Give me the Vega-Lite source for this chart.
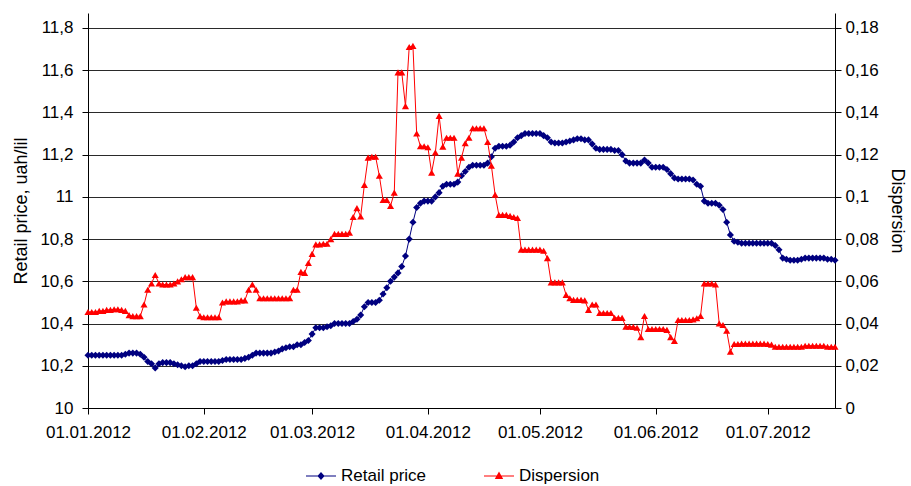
{
"$schema": "https://vega.github.io/schema/vega-lite/v6.json",
"width": 747, "height": 395,
"autosize": {"type": "none"},
"padding": {"left": 88, "top": 13, "right": 76, "bottom": 78},
"background": "white",
"config": {"view": {"stroke": null}, "font": "Liberation Sans"},
"datasets": {"main": [
{"d":"2012-01-01","p":10.25,"s":0.0455},{"d":"2012-01-02","p":10.25,"s":0.0455},{"d":"2012-01-03","p":10.25,"s":0.0455},{"d":"2012-01-04","p":10.25,"s":0.046},{"d":"2012-01-05","p":10.25,"s":0.046},{"d":"2012-01-06","p":10.25,"s":0.0465},{"d":"2012-01-07","p":10.25,"s":0.0465},{"d":"2012-01-08","p":10.25,"s":0.0468},{"d":"2012-01-09","p":10.25,"s":0.0468},{"d":"2012-01-10","p":10.25,"s":0.0465},
{"d":"2012-01-11","p":10.255,"s":0.046},{"d":"2012-01-12","p":10.26,"s":0.044},{"d":"2012-01-13","p":10.26,"s":0.0435},{"d":"2012-01-14","p":10.26,"s":0.0435},{"d":"2012-01-15","p":10.255,"s":0.0435},{"d":"2012-01-16","p":10.24,"s":0.049},{"d":"2012-01-17","p":10.22,"s":0.056},{"d":"2012-01-18","p":10.21,"s":0.059},{"d":"2012-01-19","p":10.19,"s":0.063},{"d":"2012-01-20","p":10.21,"s":0.059},
{"d":"2012-01-21","p":10.215,"s":0.0585},{"d":"2012-01-22","p":10.215,"s":0.0585},{"d":"2012-01-23","p":10.215,"s":0.0585},{"d":"2012-01-24","p":10.21,"s":0.059},{"d":"2012-01-25","p":10.205,"s":0.06},{"d":"2012-01-26","p":10.2,"s":0.061},{"d":"2012-01-27","p":10.195,"s":0.062},{"d":"2012-01-28","p":10.2,"s":0.062},{"d":"2012-01-29","p":10.2,"s":0.062},{"d":"2012-01-30","p":10.21,"s":0.0475},{"d":"2012-01-31","p":10.22,"s":0.0435},
{"d":"2012-02-01","p":10.22,"s":0.043},{"d":"2012-02-02","p":10.22,"s":0.043},{"d":"2012-02-03","p":10.22,"s":0.043},{"d":"2012-02-04","p":10.22,"s":0.043},{"d":"2012-02-05","p":10.22,"s":0.043},{"d":"2012-02-06","p":10.225,"s":0.05},{"d":"2012-02-07","p":10.23,"s":0.0505},{"d":"2012-02-08","p":10.23,"s":0.0505},{"d":"2012-02-09","p":10.23,"s":0.0505},{"d":"2012-02-10","p":10.23,"s":0.0505},
{"d":"2012-02-11","p":10.23,"s":0.051},{"d":"2012-02-12","p":10.235,"s":0.051},{"d":"2012-02-13","p":10.24,"s":0.056},{"d":"2012-02-14","p":10.25,"s":0.0585},{"d":"2012-02-15","p":10.26,"s":0.056},{"d":"2012-02-16","p":10.26,"s":0.052},{"d":"2012-02-17","p":10.26,"s":0.052},{"d":"2012-02-18","p":10.26,"s":0.052},{"d":"2012-02-19","p":10.26,"s":0.052},{"d":"2012-02-20","p":10.265,"s":0.052},
{"d":"2012-02-21","p":10.27,"s":0.052},{"d":"2012-02-22","p":10.28,"s":0.052},{"d":"2012-02-23","p":10.285,"s":0.052},{"d":"2012-02-24","p":10.29,"s":0.052},{"d":"2012-02-25","p":10.29,"s":0.056},{"d":"2012-02-26","p":10.3,"s":0.056},{"d":"2012-02-27","p":10.3,"s":0.0645},{"d":"2012-02-28","p":10.31,"s":0.064},{"d":"2012-02-29","p":10.32,"s":0.0687},
{"d":"2012-03-01","p":10.35,"s":0.073},{"d":"2012-03-02","p":10.38,"s":0.0775},{"d":"2012-03-03","p":10.38,"s":0.0775},{"d":"2012-03-04","p":10.38,"s":0.0778},{"d":"2012-03-05","p":10.385,"s":0.0778},{"d":"2012-03-06","p":10.39,"s":0.08},{"d":"2012-03-07","p":10.4,"s":0.0825},{"d":"2012-03-08","p":10.4,"s":0.0825},{"d":"2012-03-09","p":10.4,"s":0.0825},{"d":"2012-03-10","p":10.4,"s":0.0825},
{"d":"2012-03-11","p":10.4,"s":0.083},{"d":"2012-03-12","p":10.41,"s":0.0905},{"d":"2012-03-13","p":10.42,"s":0.0947},{"d":"2012-03-14","p":10.44,"s":0.0907},{"d":"2012-03-15","p":10.48,"s":0.1057},{"d":"2012-03-16","p":10.5,"s":0.1186},{"d":"2012-03-17","p":10.5,"s":0.119},{"d":"2012-03-18","p":10.5,"s":0.119},{"d":"2012-03-19","p":10.51,"s":0.11},{"d":"2012-03-20","p":10.54,"s":0.0985},
{"d":"2012-03-21","p":10.57,"s":0.0985},{"d":"2012-03-22","p":10.6,"s":0.0957},{"d":"2012-03-23","p":10.62,"s":0.102},{"d":"2012-03-24","p":10.64,"s":0.159},{"d":"2012-03-25","p":10.67,"s":0.159},{"d":"2012-03-26","p":10.72,"s":0.143},{"d":"2012-03-27","p":10.8,"s":0.171},{"d":"2012-03-28","p":10.88,"s":0.1715},{"d":"2012-03-29","p":10.95,"s":0.13},{"d":"2012-03-30","p":10.97,"s":0.124},{"d":"2012-03-31","p":10.98,"s":0.124},
{"d":"2012-04-01","p":10.98,"s":0.1235},{"d":"2012-04-02","p":10.98,"s":0.1115},{"d":"2012-04-03","p":11.0,"s":0.121},{"d":"2012-04-04","p":11.02,"s":0.1384},{"d":"2012-04-05","p":11.05,"s":0.1238},{"d":"2012-04-06","p":11.06,"s":0.128},{"d":"2012-04-07","p":11.06,"s":0.128},{"d":"2012-04-08","p":11.06,"s":0.128},{"d":"2012-04-09","p":11.07,"s":0.111},{"d":"2012-04-10","p":11.1,"s":0.1186},
{"d":"2012-04-11","p":11.12,"s":0.1254},{"d":"2012-04-12","p":11.14,"s":0.128},{"d":"2012-04-13","p":11.15,"s":0.1325},{"d":"2012-04-14","p":11.15,"s":0.1325},{"d":"2012-04-15","p":11.15,"s":0.1325},{"d":"2012-04-16","p":11.15,"s":0.1325},{"d":"2012-04-17","p":11.16,"s":0.126},{"d":"2012-04-18","p":11.19,"s":0.1148},{"d":"2012-04-19","p":11.23,"s":0.101},{"d":"2012-04-20","p":11.24,"s":0.0915},
{"d":"2012-04-21","p":11.24,"s":0.0915},{"d":"2012-04-22","p":11.24,"s":0.0915},{"d":"2012-04-23","p":11.245,"s":0.091},{"d":"2012-04-24","p":11.26,"s":0.0905},{"d":"2012-04-25","p":11.28,"s":0.09},{"d":"2012-04-26","p":11.29,"s":0.075},{"d":"2012-04-27","p":11.3,"s":0.075},{"d":"2012-04-28","p":11.3,"s":0.075},{"d":"2012-04-29","p":11.3,"s":0.075},{"d":"2012-04-30","p":11.3,"s":0.075},
{"d":"2012-05-01","p":11.3,"s":0.075},{"d":"2012-05-02","p":11.29,"s":0.0745},{"d":"2012-05-03","p":11.28,"s":0.071},{"d":"2012-05-04","p":11.26,"s":0.0595},{"d":"2012-05-05","p":11.255,"s":0.0595},{"d":"2012-05-06","p":11.255,"s":0.0595},{"d":"2012-05-07","p":11.255,"s":0.0595},{"d":"2012-05-08","p":11.26,"s":0.0536},{"d":"2012-05-09","p":11.265,"s":0.052},{"d":"2012-05-10","p":11.27,"s":0.0512},
{"d":"2012-05-11","p":11.275,"s":0.0512},{"d":"2012-05-12","p":11.275,"s":0.0512},{"d":"2012-05-13","p":11.27,"s":0.051},{"d":"2012-05-14","p":11.27,"s":0.0465},{"d":"2012-05-15","p":11.25,"s":0.049},{"d":"2012-05-16","p":11.23,"s":0.049},{"d":"2012-05-17","p":11.225,"s":0.045},{"d":"2012-05-18","p":11.225,"s":0.045},{"d":"2012-05-19","p":11.225,"s":0.045},{"d":"2012-05-20","p":11.225,"s":0.045},
{"d":"2012-05-21","p":11.22,"s":0.0427},{"d":"2012-05-22","p":11.22,"s":0.0427},{"d":"2012-05-23","p":11.2,"s":0.0427},{"d":"2012-05-24","p":11.17,"s":0.0385},{"d":"2012-05-25","p":11.16,"s":0.0385},{"d":"2012-05-26","p":11.16,"s":0.0384},{"d":"2012-05-27","p":11.16,"s":0.038},{"d":"2012-05-28","p":11.16,"s":0.0336},{"d":"2012-05-29","p":11.175,"s":0.0436},{"d":"2012-05-30","p":11.16,"s":0.0374},{"d":"2012-05-31","p":11.14,"s":0.0374},
{"d":"2012-06-01","p":11.14,"s":0.0374},{"d":"2012-06-02","p":11.14,"s":0.0374},{"d":"2012-06-03","p":11.14,"s":0.0374},{"d":"2012-06-04","p":11.13,"s":0.037},{"d":"2012-06-05","p":11.11,"s":0.0336},{"d":"2012-06-06","p":11.09,"s":0.0318},{"d":"2012-06-07","p":11.085,"s":0.0417},{"d":"2012-06-08","p":11.085,"s":0.0417},{"d":"2012-06-09","p":11.085,"s":0.0417},{"d":"2012-06-10","p":11.085,"s":0.0417},
{"d":"2012-06-11","p":11.08,"s":0.042},{"d":"2012-06-12","p":11.06,"s":0.0425},{"d":"2012-06-13","p":11.05,"s":0.0436},{"d":"2012-06-14","p":10.98,"s":0.059},{"d":"2012-06-15","p":10.97,"s":0.059},{"d":"2012-06-16","p":10.97,"s":0.059},{"d":"2012-06-17","p":10.97,"s":0.0585},{"d":"2012-06-18","p":10.96,"s":0.04},{"d":"2012-06-19","p":10.94,"s":0.0393},{"d":"2012-06-20","p":10.88,"s":0.0366},
{"d":"2012-06-21","p":10.82,"s":0.0267},{"d":"2012-06-22","p":10.79,"s":0.0303},{"d":"2012-06-23","p":10.785,"s":0.0303},{"d":"2012-06-24","p":10.78,"s":0.0305},{"d":"2012-06-25","p":10.78,"s":0.0305},{"d":"2012-06-26","p":10.78,"s":0.0305},{"d":"2012-06-27","p":10.78,"s":0.0305},{"d":"2012-06-28","p":10.78,"s":0.0305},{"d":"2012-06-29","p":10.78,"s":0.0305},{"d":"2012-06-30","p":10.78,"s":0.0305},
{"d":"2012-07-01","p":10.78,"s":0.0303},{"d":"2012-07-02","p":10.78,"s":0.03},{"d":"2012-07-03","p":10.77,"s":0.029},{"d":"2012-07-04","p":10.75,"s":0.029},{"d":"2012-07-05","p":10.71,"s":0.029},{"d":"2012-07-06","p":10.705,"s":0.029},{"d":"2012-07-07","p":10.7,"s":0.029},{"d":"2012-07-08","p":10.7,"s":0.029},{"d":"2012-07-09","p":10.7,"s":0.029},{"d":"2012-07-10","p":10.705,"s":0.029},
{"d":"2012-07-11","p":10.71,"s":0.0295},{"d":"2012-07-12","p":10.71,"s":0.0295},{"d":"2012-07-13","p":10.71,"s":0.0295},{"d":"2012-07-14","p":10.71,"s":0.0295},{"d":"2012-07-15","p":10.71,"s":0.0295},{"d":"2012-07-16","p":10.71,"s":0.0295},{"d":"2012-07-17","p":10.705,"s":0.029},{"d":"2012-07-18","p":10.705,"s":0.029},{"d":"2012-07-19","p":10.7,"s":0.029}
],
"series": [{"series": "Retail price"}, {"series": "Dispersion"}]},
"layer": [
  {
    "data": {"name": "main"},
    "mark": {"type": "line", "strokeWidth": 1, "color": "#000080", "point": {"filled": true, "size": 50, "shape": "diamond", "color": "#000080"}},
    "encoding": {
      "x": {"field": "d", "type": "temporal",
        "scale": {"type": "utc", "domain": [{"year": 2012, "month": 1, "date": 1, "utc": true}, {"year": 2012, "month": 7, "date": 19, "utc": true}], "nice": false},
        "axis": {"title": null, "grid": false,
          "values": [{"year":2012,"month":1,"date":1,"utc":true},{"year":2012,"month":2,"date":1,"utc":true},{"year":2012,"month":3,"date":1,"utc":true},{"year":2012,"month":4,"date":1,"utc":true},{"year":2012,"month":5,"date":1,"utc":true},{"year":2012,"month":6,"date":1,"utc":true},{"year":2012,"month":7,"date":1,"utc":true}],
          "labelExpr": "utcFormat(datum.value, '%d.%m.%Y')",
          "domainColor": "#000000", "tickColor": "#000000", "tickSize": 6, "labelPadding": 10,
          "labelFontSize": 17, "labelColor": "#000000", "labelFont": "Liberation Sans", "labelFlush": false, "labelOverlap": false}
      },
      "y": {"field": "p", "type": "quantitative",
        "scale": {"domain": [10, 11.871], "nice": false, "zero": false},
        "axis": {"orient": "left", "title": "Retail price, uah/lil", "titleFontSize": 18, "titleFont": "Liberation Sans", "titleFontWeight": "normal", "titleColor": "#000000", "titlePadding": 9,
          "values": [10, 10.2, 10.4, 10.6, 10.8, 11, 11.2, 11.4, 11.6, 11.8],
          "labelExpr": "replace(format(datum.value, '.1~f'), '.', ',')",
          "grid": true, "gridColor": "#2a2a2a", "gridWidth": 1,
          "domainColor": "#000000", "tickColor": "#000000", "tickSize": 6, "labelPadding": 9,
          "labelFontSize": 17, "labelColor": "#000000", "labelFont": "Liberation Sans", "labelFlush": false, "labelOverlap": false}
      }
    }
  },
  {
    "data": {"name": "main"},
    "mark": {"type": "line", "strokeWidth": 1, "color": "#FF0000", "point": {"filled": true, "size": 50, "shape": "triangle-up", "color": "#FF0000"}},
    "encoding": {
      "x": {"field": "d", "type": "temporal"},
      "y": {"field": "s", "type": "quantitative",
        "scale": {"domain": [0, 0.1871], "nice": false, "zero": false},
        "axis": {"orient": "right", "title": "Dispersion", "titleFontSize": 18, "titleFont": "Liberation Sans", "titleFontWeight": "normal", "titleColor": "#000000", "titlePadding": 9,
          "values": [0, 0.02, 0.04, 0.06, 0.08, 0.1, 0.12, 0.14, 0.16, 0.18],
          "labelExpr": "replace(format(datum.value, '.2~f'), '.', ',')",
          "grid": false,
          "domainColor": "#000000", "tickColor": "#000000", "tickSize": 6, "labelPadding": 4,
          "labelFontSize": 17, "labelColor": "#000000", "labelFont": "Liberation Sans", "labelFlush": false, "labelOverlap": false}
      }
    }
  },
  {
    "data": {"name": "series"},
    "transform": [{"filter": "false"}],
    "mark": {"type": "point", "filled": true, "opacity": 1},
    "encoding": {
      "color": {"field": "series", "type": "nominal",
        "scale": {"domain": ["Retail price", "Dispersion"], "range": ["#000080", "#FF0000"]},
        "legend": {"title": null, "orient": "none", "legendX": 218, "legendY": 448, "direction": "horizontal", "padding": 0,
          "symbolSize": 900, "labelFontSize": 17, "labelFont": "Liberation Sans", "labelColor": "#000000", "labelOffset": 5, "columnPadding": 57,
          "symbolStrokeWidth": 0, "symbolOpacity": 1}
      },
      "shape": {"field": "series", "type": "nominal",
        "scale": {"domain": ["Retail price", "Dispersion"], "range": [
          "M-1,-0.035L1,-0.035L1,0.035L-1,0.035ZM0,-0.27L0.24,0L0,0.27L-0.24,0Z",
          "M-1,-0.035L1,-0.035L1,0.035L-1,0.035ZM0,-0.3L0.28,0.2L-0.28,0.2Z"]},
        "legend": {"title": null, "orient": "none", "legendX": 218, "legendY": 448, "direction": "horizontal", "padding": 0,
          "symbolSize": 900, "labelFontSize": 17, "labelFont": "Liberation Sans", "labelColor": "#000000", "labelOffset": 5, "columnPadding": 57,
          "symbolStrokeWidth": 0, "symbolOpacity": 1}
      }
    }
  }
],
"resolve": {"scale": {"y": "independent"}}
}
